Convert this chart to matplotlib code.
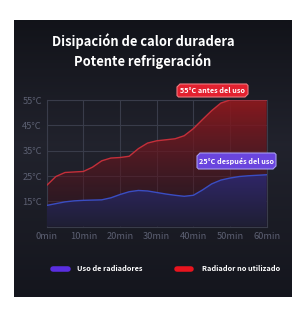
import numpy as np
import matplotlib.pyplot as plt
from matplotlib.patches import Polygon

plt.rcParams['font.family'] = ['Noto Sans CJK SC', 'DejaVu Sans']

# valores
minutos = [0, 2.5, 5, 7.5, 10, 12.5, 15, 17.5, 20, 22.5, 25, 27.5, 30,
           32.5, 35, 37.5, 40, 42.5, 45, 47.5, 50, 52.5, 55, 57.5, 60]
sin_radiador = [21.3, 24.8, 26.4, 26.6, 26.8, 28.5, 31.0, 32.1, 32.3, 32.8, 35.8, 38.0, 38.9,
                39.3, 39.7, 40.9, 43.7, 47.3, 50.8, 53.8, 55, 55, 55, 55, 55]
con_radiador = [13.4, 14.1, 14.8, 15.2, 15.4, 15.5, 15.6, 16.4, 17.7, 18.8, 19.3, 19.1, 18.5,
                17.9, 17.4, 17.0, 17.4, 19.5, 21.9, 23.4, 24.2, 24.8, 25.1, 25.3, 25.5]
x_ticks = [0, 10, 20, 30, 40, 50, 60]
x_labels = ['0min', '10min', '20min', '30min', '40min', '50min', '60min']
y_ticks = [15, 25, 35, 45, 55]
y_labels = ['15°C', '25°C', '35°C', '45°C', '55°C']

W, H = 308, 320
fig = plt.figure(figsize=(W / 100, H / 100), dpi=100)
fig.patch.set_facecolor('white')

def fx(px):
    return px / W

def fy(py):
    return 1 - py / H

# panel oscuro con degradado
bg = fig.add_axes([fx(14), fy(297), fx(292) - fx(14), fy(20) - fy(297)])
bg.axis('off')
t = np.linspace(0, 1, 200)[:, None]
top = np.array([0.07, 0.075, 0.10])
mid = np.array([0.13, 0.135, 0.175])
bot = np.array([0.08, 0.085, 0.115])
prof = np.where(t < 0.45, top + (mid - top) * (t / 0.45), mid + (bot - mid) * ((t - 0.45) / 0.55))
img = np.repeat(prof[:, None, :], 2, axis=1).reshape(200, 2, 3)
bg.imshow(img, aspect='auto', extent=[0, 1, 0, 1], origin='upper')
bg.set_xlim(0, 1)
bg.set_ylim(0, 1)

ax = fig.add_axes([fx(46.7), fy(226.7), fx(266.7) - fx(46.7), fy(100) - fy(226.7)])
ax.set_facecolor('none')

grid_c = '#393c4a'
for s in ax.spines.values():
    s.set_color(grid_c)
    s.set_linewidth(0.8)
ax.set_xticks(x_ticks)
ax.set_xticklabels(x_labels)
ax.set_yticks(y_ticks)
ax.set_yticklabels(y_labels)
ax.tick_params(length=0, colors='#5c6072', labelsize=6.7, pad=3.5)
ax.grid(True, color=grid_c, linewidth=0.8)
ax.set_axisbelow(True)

# relleno rojo con degradado
yy = np.linspace(0, 1, 256)[:, None]
red = np.zeros((256, 2, 4))
red[..., 0] = 0.20 + 0.36 * yy
red[..., 1] = 0.07 + 0.03 * yy
red[..., 2] = 0.12 + 0.0 * yy
red[..., 3] = 0.30 + 0.65 * yy
poly_r = ax.fill_between(minutos, sin_radiador, 5, color='none', linewidth=0)
im_r = ax.imshow(red, aspect='auto', extent=[0, 60, 5, 55], origin='lower', zorder=2)
im_r.set_clip_path(poly_r.get_paths()[0], transform=ax.transData)

blue = np.zeros((256, 2, 4))
blue[..., 0] = 0.12 + 0.07 * yy
blue[..., 1] = 0.12 + 0.03 * yy
blue[..., 2] = 0.20 + 0.22 * yy
blue[..., 3] = 1.0
poly_b = ax.fill_between(minutos, con_radiador, 5, color='none', linewidth=0)
im_b = ax.imshow(blue, aspect='auto', extent=[0, 60, 5, 27], origin='lower', zorder=3)
im_b.set_clip_path(poly_b.get_paths()[0], transform=ax.transData)
ax.set_xlim(0, 60)
ax.set_ylim(5, 55)

ax.plot(minutos, sin_radiador, color='#c42f3a', linewidth=1.0, zorder=4)
ax.plot(minutos, con_radiador, color='#3a4dc2', linewidth=1.0, zorder=4)

# etiquetas con esquinas cortadas
def etiqueta(x0, y0, x1, y1, color, borde, texto):
    c = 3
    pts = [(x0 + c, y0), (x1 - 1.5, y0), (x1, y0 + 1.5), (x1, y1 - c), (x1 - c, y1),
           (x0 + 1.5, y1), (x0, y1 - 1.5), (x0, y0 + c)]
    pts = [(fx(a), fy(b)) for a, b in pts]
    fig.patches.append(Polygon(pts, closed=True, facecolor=color, edgecolor=borde,
                               linewidth=0.8, transform=fig.transFigure, zorder=5))
    fig.text(fx((x0 + x1) / 2), fy((y0 + y1) / 2 + 0.3), texto, color='white', fontsize=5.2,
             fontweight='bold', ha='center', va='center', zorder=6)

etiqueta(177, 84, 248, 97, '#e3212f', '#f07a80', '55°C antes del uso')
etiqueta(197, 153, 276, 169, '#6a45de', '#a79cf0', '25°C después del uso')

# titulo
fig.text(fx(143), fy(41), 'Disipación de calor duradera', color='white', fontsize=9.3,
         fontweight='bold', ha='center', va='center')
fig.text(fx(143), fy(61), 'Potente refrigeración', color='white', fontsize=9.3,
         fontweight='bold', ha='center', va='center')

# leyenda
ley = fig.add_axes([0, 0, 1, 1])
ley.set_xlim(0, W)
ley.set_ylim(H, 0)
ley.axis('off')
ley.plot([53, 68], [268.5, 268.5], color='#5a2ee0', linewidth=4, solid_capstyle='round')
ley.plot([177, 191], [268.5, 268.5], color='#e8141e', linewidth=4, solid_capstyle='round')
ley.text(77, 268.5, 'Uso de radiadores', color='white', fontsize=5.3, fontweight='bold', va='center')
ley.text(202, 268.5, 'Radiador no utilizado', color='white', fontsize=5.3, fontweight='bold', va='center')

fig.savefig('out.png', dpi=100, facecolor='white')
